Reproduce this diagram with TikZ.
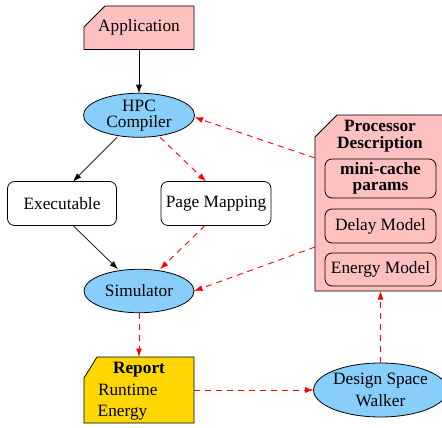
\documentclass[tikz,border=0pt]{standalone}
\usepackage{fontspec}
\setmainfont{Liberation Serif}
\usetikzlibrary{arrows.meta,shapes.geometric}
\definecolor{pinkfill}{HTML}{FFC0C0}
\definecolor{bluefill}{HTML}{87CEFA}
\definecolor{goldfill}{HTML}{FFD700}
\tikzset{
  base/.style={font=\fontsize{17.3}{16}\selectfont, inner sep=0pt, outer sep=0pt},
  ell/.style={base, ellipse, draw=black, line width=0.8pt, fill=bluefill, align=center},
  rbox/.style={base, rectangle, rounded corners=7pt, draw=black, line width=0.8pt, align=center},
  frame/.style={base, rectangle, minimum width=#1},
  blk/.style={-{Latex[length=8.5pt,width=6pt]}, line width=0.7pt, black},
  rdash/.style={-{Latex[length=8.5pt,width=6pt]}, line width=0.9pt, red, dash pattern=on 6pt off 5pt},
  txt/.style={base}
}
\begin{document}
\begin{tikzpicture}[x=1pt,y=-1pt]
\useasboundingbox (0,0) rectangle (442,428);
% Application
\fill[pinkfill] (84,27) -- (105,6) -- (194,6) -- (194,49.5) -- (84,49.5) -- cycle;
\draw[line width=0.8pt] (84,27) -- (105,6) -- (194,6) -- (194,49.5) -- (84,49.5) -- cycle;
\node[frame=110pt, minimum height=43.5pt] (app) at (139,27.75) {Application};
% HPC Compiler
\node[ell, minimum width=111pt, minimum height=43.5pt] (comp) at (139,115.25) {HPC\\Compiler};
% Executable, Page Mapping
\node[rbox, minimum width=109pt, minimum height=44pt] (exe) at (62,203.5) {Executable};
\node[rbox, minimum width=110pt, minimum height=44pt] (pm) at (216,203.5) {Page Mapping};
% Simulator
\node[ell, minimum width=110pt, minimum height=43.5pt] (sim) at (139,291) {Simulator};
% Processor description
\fill[pinkfill] (315,137) -- (337,115) -- (446,115) -- (446,291) -- (315,291) -- cycle;
\draw[line width=0.8pt] (315,137) -- (337,115) -- (446,115) -- (446,291) -- (315,291) -- cycle;
\node[frame=131pt, minimum height=176pt] (proc) at (380.5,203) {};
\node[txt, anchor=base, font=\fontsize{17.3}{16}\selectfont\bfseries] (procT1) at (380,131.7) {Processor};
\node[txt, anchor=base, font=\fontsize{17.3}{16}\selectfont\bfseries] (procT2) at (380,148.3) {Description};
\node[rbox, minimum width=111pt, minimum height=39pt, font=\fontsize{17.3}{16}\selectfont\bfseries] (mc) at (380.5,178.5) {mini-cache\\params};
\node[rbox, minimum width=111pt, minimum height=34pt] (dm) at (380.5,226) {Delay Model};
\node[rbox, minimum width=111pt, minimum height=33pt] (em) at (380.5,269.5) {Energy Model};
% Report
\fill[goldfill] (84,378) -- (97,357) -- (194,357) -- (194,423) -- (84,423) -- cycle;
\draw[line width=0.8pt] (84,378) -- (97,357) -- (194,357) -- (194,423) -- (84,423) -- cycle;
\node[frame=110pt, minimum height=66pt] (rep) at (139,390) {};
\node[txt, anchor=base, font=\fontsize{17.3}{16}\selectfont\bfseries] (repT) at (139,373.3) {Report};
\node[txt, anchor=base west] (repR) at (98,395) {Runtime};
\node[txt, anchor=base west] (repE) at (97.7,416.7) {Energy};
% Design Space Walker
\node[ell, minimum width=131pt, minimum height=54pt, font=\fontsize{17.3}{22.5}\selectfont] (dsw) at (380.5,390) {Design Space\\Walker};
% connectors
\draw[blk] (app) -- (comp);
\draw[blk] ([xshift=-22pt]comp.south) -- ([xshift=11pt]exe.north);
\draw[rdash] ([xshift=21pt]comp.south) -- ([xshift=-10pt]pm.north);
\draw[blk] ([xshift=11pt]exe.south) -- ([xshift=-21pt]sim.north);
\draw[rdash] ([xshift=-11pt]pm.south) -- ([xshift=21pt]sim.north);
\draw[rdash] ([yshift=45pt]proc.west) -- ([yshift=-2pt]comp.east);
\draw[rdash] ([yshift=-44pt]proc.west) -- (sim.east);
\draw[rdash] (sim) -- (rep);
\draw[rdash] (rep) -- (dsw);
\draw[rdash] (dsw.north) -- (dsw.north |- proc.south);
\end{tikzpicture}
\end{document}
